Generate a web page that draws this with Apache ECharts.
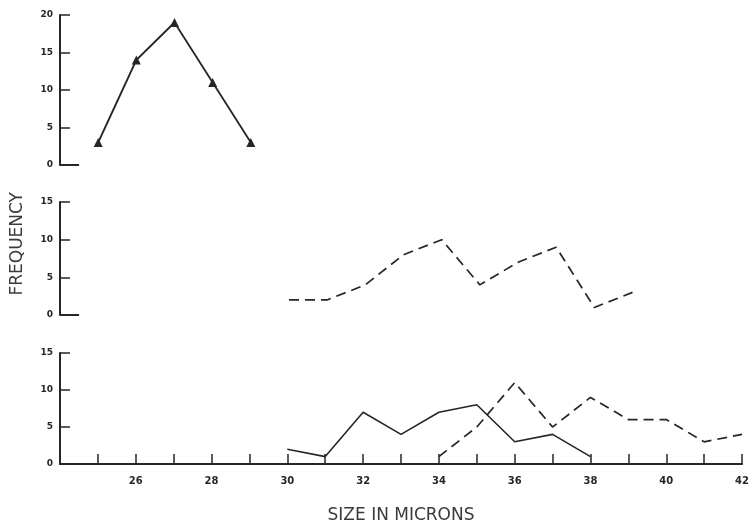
<!DOCTYPE html>
<html>
<head>
<meta charset="utf-8">
<script src="https://cdn.jsdelivr.net/npm/echarts@6/dist/echarts.min.js"></script>
<style>html,body{margin:0;padding:0;background:#fff}#c{width:752px;height:525px}</style>
</head>
<body>
<div id="c"></div>
<script>
// ---- data ----
var topSizes = [25, 26, 27, 28, 29];
var topFreq = [3, 14, 19, 11, 3];

var midSizes = [30, 31, 32, 33, 34, 35, 36, 37, 38, 39];
var midFreq = [2, 2, 4, 8, 10, 4, 7, 9, 1, 3];

var botSolidSizes = [30, 31, 32, 33, 34, 35, 36, 37, 38];
var botSolidFreq = [2, 1, 7, 4, 7, 8, 3, 4, 1];

var botDashSizes = [34, 35, 36, 37, 38, 39, 40, 41, 42];
var botDashFreq = [1, 5, 11, 5, 9, 6, 6, 3, 4];

var xTickLabels = [26, 28, 30, 32, 34, 36, 38, 40, 42];
var xMin = 24, xMax = 42;
var yTitle = 'FREQUENCY';
var xTitle = 'SIZE IN MICRONS';

function pairs(xs, ys) { return xs.map(function (x, i) { return [x, ys[i]]; }); }

var ink = '#262626';
var labelFont = { fontSize: 9, fontWeight: 'bold', color: ink, fontFamily: 'DejaVu Sans' };
var titleFont = { fontSize: 17, color: '#3a3a3a', fontFamily: 'DejaVu Sans' };
var dash = [10, 6];

function yAx(idx, max) {
  return {
    type: 'value', gridIndex: idx, min: 0, max: max, interval: 5,
    splitLine: { show: false },
    axisLine: { show: true, lineStyle: { color: ink, width: 2 } },
    axisTick: { show: true, inside: true, length: 10, lineStyle: { color: ink, width: 1.5 } },
    axisLabel: Object.assign({ margin: 7 }, labelFont)
  };
}
function xHidden(idx) {
  return { type: 'value', gridIndex: idx, min: xMin, max: xMax, interval: 1, show: false };
}
var stub = { silent: true, symbol: 'none', label: { show: false },
  lineStyle: { color: ink, width: 2, type: 'solid' },
  data: [[{ coord: [xMin, 0] }, { coord: [xMin + 0.5, 0] }]] };

var chart = echarts.init(document.getElementById('c'));
chart.setOption({
  animation: false,
  backgroundColor: '#fff',
  grid: [
    { left: 60, right: 5, top: 15, height: 150 },
    { left: 60, right: 5, top: 202, height: 113 },
    { left: 60, right: 5, top: 353, height: 111 }
  ],
  graphic: [{
    type: 'text', left: 9, top: 192, rotation: Math.PI / 2,
    style: { text: yTitle, font: '17px "DejaVu Sans"', fill: '#3a3a3a' }
  }],
  xAxis: [
    xHidden(0), xHidden(1),
    {
      type: 'value', gridIndex: 2, min: xMin, max: xMax, interval: 1,
      splitLine: { show: false },
      axisLine: { show: true, lineStyle: { color: ink, width: 2 } },
      axisTick: { show: true, inside: true, length: 10, lineStyle: { color: ink, width: 1.5 } },
      axisLabel: Object.assign({}, labelFont, { fontSize: 10, margin: 12, formatter: function (v) {
        return xTickLabels.indexOf(v) >= 0 ? String(v) : '';
      } }),
      name: xTitle, nameLocation: 'middle', nameGap: 43,
      nameTextStyle: titleFont
    }
  ],
  yAxis: [ yAx(0, 20), yAx(1, 15), yAx(2, 15) ],
  series: [
    { type: 'line', xAxisIndex: 0, yAxisIndex: 0, data: pairs(topSizes, topFreq),
      symbol: 'triangle', symbolSize: 9, itemStyle: { color: ink },
      lineStyle: { color: ink, width: 1.8 }, markLine: stub },
    { type: 'line', xAxisIndex: 1, yAxisIndex: 1, data: pairs(midSizes, midFreq),
      symbol: 'none', lineStyle: { color: ink, width: 1.7, type: dash }, markLine: stub },
    { type: 'line', xAxisIndex: 2, yAxisIndex: 2, data: pairs(botSolidSizes, botSolidFreq),
      symbol: 'none', lineStyle: { color: ink, width: 1.6 } },
    { type: 'line', xAxisIndex: 2, yAxisIndex: 2, data: pairs(botDashSizes, botDashFreq),
      symbol: 'none', lineStyle: { color: ink, width: 1.7, type: dash } }
  ]
});
</script>
</body>
</html>
